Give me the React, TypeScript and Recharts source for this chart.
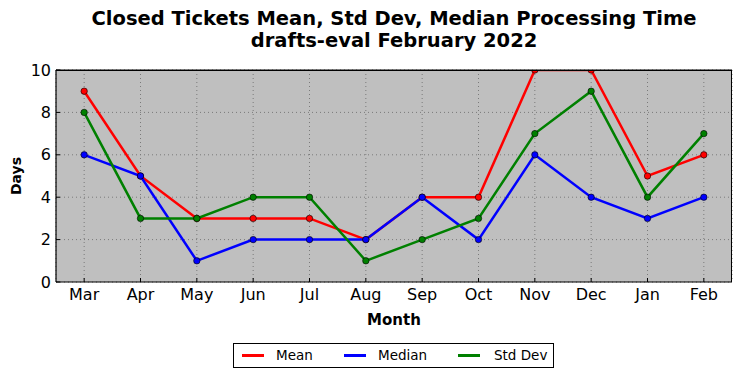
import React from 'react';
import { LineChart, Line, XAxis, YAxis, CartesianGrid } from 'recharts';

const months = ['Mar', 'Apr', 'May', 'Jun', 'Jul', 'Aug', 'Sep', 'Oct', 'Nov', 'Dec', 'Jan', 'Feb'];
const meanValues = [9, 5, 3, 3, 3, 2, 4, 4, 10, 10, 5, 6];
const medianValues = [6, 5, 1, 2, 2, 2, 4, 2, 6, 4, 3, 4];
const stdDevValues = [8, 3, 3, 4, 4, 1, 2, 3, 7, 9, 4, 7];
const yTicks = [0, 2, 4, 6, 8, 10];

const data = months.map((m, i) => ({
  month: m,
  mean: meanValues[i],
  median: medianValues[i],
  std: stdDevValues[i],
}));

const FONT = '"DejaVu Sans", sans-serif';

const series = [
  { key: 'mean', name: 'Mean', color: '#ff0000' },
  { key: 'median', name: 'Median', color: '#0000ff' },
  { key: 'std', name: 'Std Dev', color: '#008000' },
];

const axisLine = { stroke: '#000', strokeWidth: 1.2 };
const tickLine = { stroke: '#000', strokeWidth: 1 };

const LegendBox = () => (
  <div
    style={{
      position: 'absolute',
      left: 233,
      top: 343,
      width: 319,
      height: 23,
      border: '1px solid #000',
      background: '#fff',
      fontFamily: FONT,
      fontSize: 13.5,
      color: '#000',
    }}
  >
    {[
      { name: 'Mean', color: '#ff0000', lx: 8, tx: 42 },
      { name: 'Median', color: '#0000ff', lx: 110, tx: 144 },
      { name: 'Std Dev', color: '#008000', lx: 224, tx: 260 },
    ].map((it) => (
      <React.Fragment key={it.name}>
        <div
          style={{
            position: 'absolute',
            left: it.lx,
            top: 10,
            width: 22,
            height: 2.5,
            background: it.color,
          }}
        />
        <div style={{ position: 'absolute', left: it.tx, top: 3, lineHeight: '16px', whiteSpace: 'nowrap' }}>
          {it.name}
        </div>
      </React.Fragment>
    ))}
  </div>
);

export default function App() {
  return (
    <div style={{ position: 'absolute', left: 0, top: 0, width: 741, height: 378, background: '#fff' }}>
      <div
        style={{
          position: 'absolute',
          left: 0,
          width: 788,
          top: 8,
          textAlign: 'center',
          fontFamily: FONT,
          fontWeight: 'bold',
          fontSize: 19.5,
          lineHeight: '22px',
          color: '#000',
        }}
      >
        Closed Tickets Mean, Std Dev, Median Processing Time
        <br />
        drafts-eval February 2022
      </div>
      <LineChart
        width={741}
        height={378}
        data={data}
        margin={{ top: 69, right: 9, bottom: 46, left: 10 }}
        style={{ position: 'absolute', left: 0, top: 0 }}
      >
        <CartesianGrid
          fill="#bfbfbf"
          stroke="#7a7a7a"
          strokeDasharray="1 3"
          vertical={true}
          horizontal={true}
        />
        <XAxis
          dataKey="month"
          scale="band"
          height={50}
          axisLine={axisLine}
          tickLine={tickLine}
          tickSize={-4}
          tickMargin={11}
          tick={{ fill: '#000', fontSize: 16, fontFamily: FONT }}
          interval={0}
        />
        <XAxis
          xAxisId="top"
          dataKey="month"
          scale="band"
          orientation="top"
          height={1}
          tick={false}
          tickLine={tickLine}
          tickSize={-4}
          interval={0}
          axisLine={axisLine}
        />
        <YAxis
          width={46}
          domain={[0, 10]}
          ticks={yTicks}
          allowDataOverflow={true}
          axisLine={axisLine}
          tickLine={tickLine}
          tickSize={-4}
          tickMargin={9}
          tick={{ fill: '#000', fontSize: 16, fontFamily: FONT }}
        />
        <YAxis
          yAxisId="right"
          orientation="right"
          width={0}
          domain={[0, 10]}
          ticks={yTicks}
          tick={false}
          tickLine={tickLine}
          tickSize={-4}
          axisLine={axisLine}
        />
        {series.map((s) => (
          <Line
            key={s.key}
            dataKey={s.key}
            name={s.name}
            type="linear"
            stroke={s.color}
            strokeWidth={2.5}
            dot={{ r: 3.2, fill: s.color, stroke: '#000', strokeWidth: 0.6 }}
            activeDot={false}
            isAnimationActive={false}
          />
        ))}
      </LineChart>
      <div
        style={{
          position: 'absolute',
          left: 55.5,
          top: 69.5,
          width: 676,
          height: 212,
          boxSizing: 'border-box',
          borderTop: '1.2px solid #000',
          borderRight: '1.2px solid #000',
          pointerEvents: 'none',
        }}
      />
      <div
        style={{
          position: 'absolute',
          left: 0,
          width: 788,
          top: 311,
          textAlign: 'center',
          fontFamily: FONT,
          fontWeight: 'bold',
          fontSize: 15,
          lineHeight: '18px',
          color: '#000',
        }}
      >
        Month
      </div>
      <div
        style={{
          position: 'absolute',
          left: 16,
          top: 176,
          transform: 'translate(-50%, -50%) rotate(-90deg)',
          fontFamily: FONT,
          fontWeight: 'bold',
          fontSize: 14,
          lineHeight: '18px',
          color: '#000',
          whiteSpace: 'nowrap',
        }}
      >
        Days
      </div>
      <LegendBox />
    </div>
  );
}
